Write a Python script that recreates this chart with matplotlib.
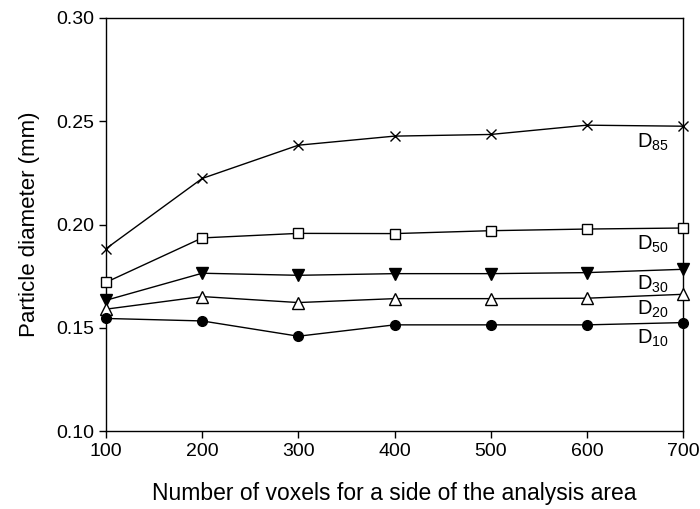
import matplotlib
matplotlib.use('Agg')
import matplotlib.pyplot as plt

plt.rcParams['font.family'] = ['Liberation Sans', 'DejaVu Sans']
plt.rcParams['mathtext.fontset'] = 'custom'
plt.rcParams['mathtext.rm'] = 'Liberation Sans'
plt.rcParams['mathtext.it'] = 'Liberation Sans'

# data
voxels = [100, 200, 300, 400, 500, 600, 700]
d85 = [0.1883, 0.2223, 0.2384, 0.2428, 0.2436, 0.2481, 0.2476]
d50 = [0.1720, 0.1935, 0.1957, 0.1956, 0.1970, 0.1978, 0.1983]
d30 = [0.1633, 0.1764, 0.1754, 0.1762, 0.1762, 0.1767, 0.1783]
d20 = [0.1590, 0.1651, 0.1622, 0.1641, 0.1641, 0.1643, 0.1662]
d10 = [0.1545, 0.1533, 0.1459, 0.1514, 0.1514, 0.1514, 0.1525]

labels = ['85', '50', '30', '20', '10']
label_y = [0.2400, 0.1905, 0.1712, 0.1590, 0.1450]

fig = plt.figure(figsize=(7, 5.09), dpi=100)
ax = fig.add_axes([106/700, 1 - 431/509, (683-106)/700, (431-18)/509])

lw = 1.0
ax.plot(voxels, d85, color='black', lw=lw, marker='x', ms=7, mew=1.0, clip_on=False, zorder=3)
ax.plot(voxels, d50, color='black', lw=lw, marker='s', ms=7, mfc='white', mew=1.0, clip_on=False, zorder=3)
ax.plot(voxels, d30, color='black', lw=lw, marker='v', ms=8, mfc='black', clip_on=False, zorder=3)
ax.plot(voxels, d20, color='black', lw=lw, marker='^', ms=8, mfc='white', mew=1.0, clip_on=False, zorder=3)
ax.plot(voxels, d10, color='black', lw=lw, marker='o', ms=7, mfc='black', clip_on=False, zorder=3)

for lab, yv in zip(labels, label_y):
    ax.text(652, yv, 'D$_{' + lab + '}$', fontsize=14.5, ha='left', va='center')

ax.set_xlim(100, 700)
ax.set_ylim(0.10, 0.30)
ax.set_xticks(voxels)
ax.set_yticks([0.10, 0.15, 0.20, 0.25, 0.30])
ax.set_yticklabels(['0.10', '0.15', '0.20', '0.25', '0.30'])
ax.tick_params(direction='out', length=5, width=1, labelsize=14)
for s in ax.spines.values():
    s.set_linewidth(1)

ax.set_xlabel('Number of voxels for a side of the analysis area', fontsize=16.5, labelpad=16)
ax.set_ylabel('Particle diameter (mm)', fontsize=16, labelpad=12)

fig.savefig('out.png', dpi=100)
